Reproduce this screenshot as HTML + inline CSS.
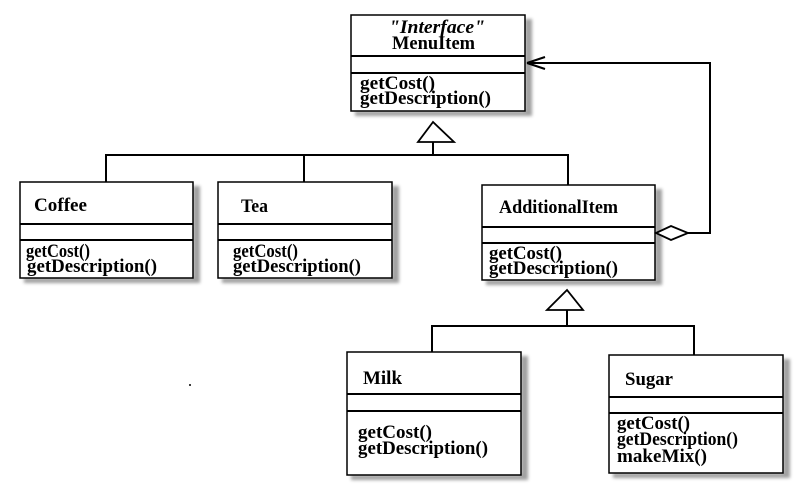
<!DOCTYPE html><html><head><style>body{margin:0;background:#fff}svg text{font-family:"Liberation Serif",serif;font-weight:bold;font-size:19px;fill:#000}</style></head><body>
<svg width="806" height="493" xmlns="http://www.w3.org/2000/svg">
<defs><filter id="b"><feGaussianBlur stdDeviation="1.5"/></filter></defs>
<g fill="#888" filter="url(#b)" opacity="0.8">
<rect x="525" y="19" width="7" height="96"/><rect x="355" y="111" width="177" height="5"/>
<rect x="193" y="186" width="7" height="96"/><rect x="24" y="278" width="176" height="5"/>
<rect x="392" y="186" width="7" height="96"/><rect x="222" y="278" width="177" height="5"/>
<rect x="655" y="189" width="7" height="96"/><rect x="486" y="280" width="176" height="5"/>
<rect x="521" y="356" width="7" height="123"/><rect x="351" y="475" width="177" height="5"/>
<rect x="783" y="359" width="7" height="118"/><rect x="613" y="473" width="177" height="5"/>
</g>
<g fill="#fff" stroke="#000" stroke-width="1.5">
<rect x="351" y="15" width="174" height="96"/>
<rect x="20" y="182" width="173" height="96"/>
<rect x="218" y="182" width="174" height="96"/>
<rect x="482" y="185" width="173" height="95"/>
<rect x="347" y="352" width="174" height="123"/>
<rect x="609" y="355" width="174" height="118"/>
</g>
<g stroke="#000" stroke-width="2" fill="none">
<path d="M351 56H525M351 73H525"/>
<path d="M20 224H193M20 240H193"/>
<path d="M218 224H392M218 240H392"/>
<path d="M482 227H655M482 243H655"/>
<path d="M347 394H521M347 411H521"/>
<path d="M609 397H783M609 413H783"/>
<path d="M433 142V155M106 182V155H568V185M304 155V182"/>
<path d="M567 310V326M432 352V326H694V355"/>
<path d="M688 233H710V63H527M527 63L545 57M527 63L545 69"/>
</g>
<g fill="#fff" stroke="#000" stroke-width="1.8">
<polygon points="433,122 418,142 454,142"/>
<polygon points="567,290 547,310 583,310"/>
<polygon points="656,233 671,226 688,233 671,240"/>
</g>
<text x="389" y="33" font-style="italic" textLength="96" lengthAdjust="spacingAndGlyphs">"Interface"</text>
<text x="392" y="49" textLength="83" lengthAdjust="spacingAndGlyphs">MenuItem</text>
<text x="360" y="89" textLength="75" lengthAdjust="spacingAndGlyphs">getCost()</text><text x="360" y="104" textLength="131" lengthAdjust="spacingAndGlyphs">getDescription()</text>
<text x="34" y="211" textLength="53" lengthAdjust="spacingAndGlyphs">Coffee</text>
<text x="26" y="257" textLength="64" lengthAdjust="spacingAndGlyphs">getCost()</text><text x="27" y="272" textLength="130" lengthAdjust="spacingAndGlyphs">getDescription()</text>
<text x="241" y="212" textLength="27" lengthAdjust="spacingAndGlyphs">Tea</text>
<text x="233" y="257" textLength="65" lengthAdjust="spacingAndGlyphs">getCost()</text><text x="233" y="272" textLength="128" lengthAdjust="spacingAndGlyphs">getDescription()</text>
<text x="499" y="213" textLength="119" lengthAdjust="spacingAndGlyphs">AdditionalItem</text>
<text x="489" y="259" textLength="73" lengthAdjust="spacingAndGlyphs">getCost()</text><text x="489" y="274" textLength="129" lengthAdjust="spacingAndGlyphs">getDescription()</text>
<text x="363" y="384" textLength="39" lengthAdjust="spacingAndGlyphs">Milk</text>
<text x="358" y="438" textLength="74" lengthAdjust="spacingAndGlyphs">getCost()</text><text x="358" y="454" textLength="130" lengthAdjust="spacingAndGlyphs">getDescription()</text>
<text x="625" y="385" textLength="48" lengthAdjust="spacingAndGlyphs">Sugar</text>
<text x="617" y="429" textLength="73" lengthAdjust="spacingAndGlyphs">getCost()</text><text x="617" y="445" textLength="121" lengthAdjust="spacingAndGlyphs">getDescription()</text><text x="617" y="462" textLength="90" lengthAdjust="spacingAndGlyphs">makeMix()</text>
<circle cx="190" cy="385" r="1" fill="#000"/>
</svg></body></html>
